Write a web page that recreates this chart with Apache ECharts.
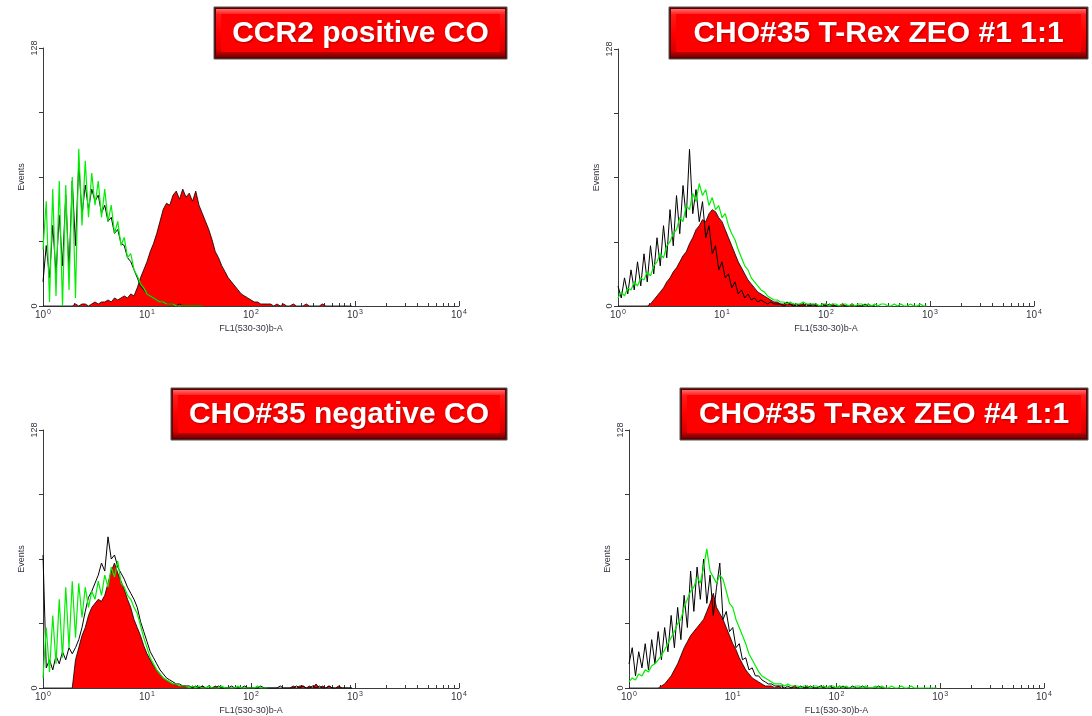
<!DOCTYPE html>
<html>
<head>
<meta charset="utf-8">
<script src="https://cdn.jsdelivr.net/npm/echarts@6/dist/echarts.min.js"></script>
<style>
html,body{margin:0;padding:0;background:#fff;}
#chart{width:1092px;height:716px;}
</style>
</head>
<body>
<div id="chart"></div>
<script>
// ---------- data ----------
const binsPerDecade = 32;            // histogram channels per decade (log10 scale)
const decadeTicks = [0, 1, 2, 3, 4]; // labelled as 10^n
const yMax = 128;
const yLabels = [0, 128];
const xAxisName = 'FL1(530-30)b-A';
const yAxisName = 'Events';
const panelTitles = ['CCR2 positive CO', 'CHO#35 T-Rex ZEO #1 1:1', 'CHO#35 negative CO', 'CHO#35 T-Rex ZEO #4 1:1'];

// Panel 1: CCR2 positive CO
const p1Red = [0,0,0,0,0,0,0,0,0,0, 1,0,1,1,0,1,2,1,2,2, 3,2,4,3,4,5,4,6,5,9, 14,18,22,27,31,36,42,48,51,50,
  55,57,53,58,54,56,52,57,50,46, 42,38,33,27,24,20,17,14,12,10, 8,6,5,4,3,2,2,1,1,1, 1,0,1,0,1,0,0,1,0,0,
  0,1,0,0,0,0,1,0,0,0,0,0,0,0,0,0];
const p1Black = [12,30,14,40,16,45,20,55,18,62, 30,71,45,60,48,58,52,55,46,50, 42,44,36,38,31,30,24,22,18,14,
  10,8,6,5,4,3,2,2,1,1, 1,0,1,0,0,0,0,0,0,0];
const p1Green = [28,52,2,58,5,62,0,60,8,64, 4,78,40,72,44,66,50,62,44,58, 42,50,36,42,30,34,24,26,18,15,
  11,9,6,5,4,3,2,2,1,1, 1,0,0,0,0,0,0,0,0,0];

// Panel 2: CHO#35 T-Rex ZEO #1 1:1
const p2Red = [0,0,0,0,0,0,0,0,0,0, 1,3,5,7,9,12,14,17,19,22, 25,27,31,34,38,40,43,42,46,48, 47,44,42,38,34,30,26,22,19,16,
  13,11,9,7,6,5,4,3,2,2, 1,1,2,1,1,0,1,1,0,1, 0,1,0,0,1,0,1,0,0,1, 0,0,1,0,0,0,1,0,0,0];
const p2Black = [10,4,14,6,18,8,22,10,26,12, 30,16,34,20,40,24,48,30,55,36, 60,44,78,46,58,42,52,34,40,26,
  30,18,22,14,16,9,12,6,8,4, 6,3,4,2,3,2,1,2,1,1, 1,0,1,1,0,1,0,0,1,0, 1,0,0,1,0,1,0,0,0,1, 0,0,1,0,0,0,0,1,0,0];
const p2Green = [4,7,5,9,8,12,10,14,13,17, 15,20,22,26,24,30,32,36,38,44, 42,50,48,56,52,61,55,58,50,54,
  48,50,44,46,40,36,33,28,24,20, 18,14,12,10,8,7,5,4,3,3, 2,2,1,2,1,1,1,2,1,1, 1,1,0,1,1,0,1,1,0,1,
  1,0,1,0,1,1,0,1,0,1, 0,1,1,0,0,1,0,1,0,0,1,0,0,1,0,0];

// Panel 3: CHO#35 negative CO
const p3Red = [0,0,0,0,0,0,0,0,0,0, 14,20,26,30,36,40,42,44,43,46, 52,58,62,57,53,49,44,40,34,30, 26,21,17,14,11,9,7,5,4,3,
  2,2,1,1,1,0,1,0,0,1, 0,0,0,1,0,0,0,0,0,0, 0,0,0,0,0,0,0,0,0,0, 0,0,0,0,0,0,0,1,0,1,
  1,0,1,0,2,0,1,0,1,0,0,1,0,0,0,0];
const p3Black = [66,10,14,9,16,12,18,14,20,17, 20,24,30,38,45,48,52,56,62,58, 75,64,66,60,57,54,50,47,44,40,
  33,28,23,18,15,12,9,7,5,4, 3,2,2,1,1,1,0,1,0,1, 0,1,0,0,1,0,0,0,1,0, 0,0,1,0,0,0,0,1,0,0,
  0,0,0,1,0,0,0,0,1,0, 1,0,0,1,0,1,0,0,1,0,0,0,0,0,0,0];
const p3Green = [5,30,8,36,12,44,15,50,20,53, 25,52,35,50,40,48,44,53,46,56, 50,60,55,63,52,50,46,44,40,37,
  31,25,20,15,12,9,7,5,4,3, 2,2,1,1,1,0,1,0,1,0, 0,1,0,0,0,1,0,0,0,0, 1,0,0,0,0,0,1,0,0,0];

// Panel 4: CHO#35 T-Rex ZEO #4 1:1
const p4Red = [0,0,0,0,0,0,0,0,0,0, 1,2,4,6,9,12,16,20,23,26, 28,30,32,34,38,42,47,40,37,34, 30,26,22,19,15,12,9,7,5,4,
  3,2,1,1,1,0,1,0,0,0, 0,1,0,0,0,1,0,0,0,0, 1,0,0,0,0,0,1,0,0,0];
const p4Black = [12,20,6,18,10,22,9,24,12,28, 14,30,18,36,20,40,24,46,30,58, 38,60,44,64,42,56,36,50,62,34,
  38,28,30,20,22,14,15,9,10,6, 6,4,3,2,2,1,1,1,0,1, 0,1,0,1,0,0,1,0,0,1, 0,0,1,0,0,1,0,0,0,1, 0,0,1,0,0,0,0,1,0,0];
const p4Green = [3,5,4,7,6,9,8,11,12,14, 16,19,22,25,28,32,34,40,44,48, 50,55,52,60,69,58,55,52,56,54,
  48,42,40,34,30,26,22,17,14,11, 8,6,5,4,3,2,2,2,1,2, 1,1,1,0,1,1,0,1,1,0, 1,0,1,1,0,1,0,1,0,0,
  1,1,0,1,0,0,1,0,1,0, 0,1,0,0,1,0,0,1,0,0,0,0,0,0,0,0];

const panelRed = [p1Red, p2Red, p3Red, p4Red];
const panelBlack = [p1Black, p2Black, p3Black, p4Black];
const panelGreen = [p1Green, p2Green, p3Green, p4Green];

// ---------- layout ----------
const grids = [
  {left: 43, top: 48, width: 416, height: 258},
  {left: 618, top: 49, width: 416, height: 257},
  {left: 43, top: 430, width: 416, height: 258},
  {left: 629, top: 430, width: 415, height: 258}
];
const titleBoxes = [
  {x: 214, y: 7, w: 293, h: 52},
  {x: 669, y: 7, w: 419, h: 52},
  {x: 171, y: 388, w: 336, h: 52},
  {x: 680, y: 388, w: 408, h: 52}
];

const FONT = '"Liberation Sans", Arial, sans-serif';
const AXIS_COLOR = '#3a3a3a';
const LABEL_COLOR = '#33333f';

// minor log tick positions on a 0.01-decade category scale
const minorCats = [];
for (let i = 0; i <= 400; i++) minorCats.push(String(i));
const minorSet = new Set();
for (let k = 0; k < 4; k++) for (let m = 2; m <= 9; m++) minorSet.add(Math.round(100 * (k + Math.log10(m))));

function toPairs(arr) { return arr.map((v, i) => [i / binsPerDecade, v]); }

const xAxes = [], yAxes = [], series = [];
grids.forEach((g, p) => {
  xAxes.push({
    type: 'value', gridIndex: p, min: 0, max: decadeTicks[decadeTicks.length - 1], interval: 1,
    position: 'bottom',
    axisLine: {show: true, lineStyle: {color: AXIS_COLOR, width: 1}},
    axisTick: {show: true, inside: true, length: 5, lineStyle: {color: AXIS_COLOR}},
    splitLine: {show: false},
    axisLabel: {
      margin: 3,
      formatter: v => '{b|10}{s|' + v + '}',
      rich: {
        b: {fontSize: 10, fontFamily: FONT, color: LABEL_COLOR, lineHeight: 12},
        s: {fontSize: 7, fontFamily: FONT, color: LABEL_COLOR, lineHeight: 7, verticalAlign: 'top', padding: [0, 0, 0, 1]}
      }
    },
    name: xAxisName, nameLocation: 'middle', nameGap: 18,
    nameTextStyle: {fontSize: 9, fontFamily: FONT, color: LABEL_COLOR}
  });
  xAxes.push({
    type: 'category', gridIndex: p, data: minorCats, boundaryGap: false, position: 'bottom', offset: 0,
    axisLine: {show: false},
    axisLabel: {show: false},
    splitLine: {show: false},
    axisTick: {show: true, inside: true, length: 3, lineStyle: {color: AXIS_COLOR},
      interval: (idx) => minorSet.has(idx)}
  });
  yAxes.push({
    type: 'value', gridIndex: p, min: 0, max: yMax, interval: 32,
    axisLine: {show: true, lineStyle: {color: AXIS_COLOR, width: 1}},
    axisTick: {show: true, inside: false, length: 4, lineStyle: {color: AXIS_COLOR}},
    splitLine: {show: false},
    axisLabel: {
      rotate: 90, fontSize: 9, fontFamily: FONT, color: LABEL_COLOR, margin: 4,
      formatter: v => (yLabels.indexOf(v) >= 0 ? String(v) : '')
    },
    name: yAxisName, nameLocation: 'middle', nameRotate: 90, nameGap: 17,
    nameTextStyle: {fontSize: 9, fontFamily: FONT, color: LABEL_COLOR}
  });
  const common = {type: 'line', symbol: 'none', showSymbol: false, silent: true,
    xAxisIndex: 2 * p, yAxisIndex: p, animation: false};
  series.push(Object.assign({}, common, {
    name: 'red', data: toPairs(panelRed[p]), z: 2,
    lineStyle: {color: '#000', width: 0.8},
    areaStyle: {color: '#ff0000', opacity: 1}
  }));
  series.push(Object.assign({}, common, {
    name: 'black', data: toPairs(panelBlack[p]), z: 3,
    lineStyle: {color: '#000', width: 1}
  }));
  series.push(Object.assign({}, common, {
    name: 'green', data: toPairs(panelGreen[p]), z: 4,
    lineStyle: {color: '#00ee00', width: 1.2}
  }));
});

// title boxes (bevelled red buttons)
const graphics = [];
titleBoxes.forEach((b, p) => {
  graphics.push({
    type: 'group', z: 100, children: [
      {type: 'rect', shape: {x: b.x, y: b.y, width: b.w, height: b.h},
        style: {fill: '#5a0000', stroke: '#555', lineWidth: 1}},
      {type: 'rect', shape: {x: b.x + 2, y: b.y + 2, width: b.w - 4, height: b.h - 4},
        style: {fill: new echarts.graphic.LinearGradient(0, 0, 0, 1, [
          {offset: 0, color: '#ff6a6a'}, {offset: 0.12, color: '#ff1a1a'},
          {offset: 0.5, color: '#ff0000'}, {offset: 0.86, color: '#d80000'}, {offset: 1, color: '#7a0000'}])}},
      {type: 'rect', shape: {x: b.x + 7, y: b.y + 7, width: b.w - 14, height: b.h - 14},
        style: {fill: '#ff0000'}},
      {type: 'text', x: b.x + b.w / 2, y: b.y + b.h / 2 + 1,
        style: {text: panelTitles[p], fill: '#ffffff', font: 'bold 30px "Liberation Sans", Arial, sans-serif',
          align: 'center', verticalAlign: 'middle',
          textShadowColor: 'rgba(80,0,0,0.5)', textShadowBlur: 2, textShadowOffsetX: 1, textShadowOffsetY: 1}}
    ]
  });
});

const chart = echarts.init(document.getElementById('chart'), null, {renderer: 'canvas'});
chart.setOption({
  backgroundColor: '#ffffff',
  animation: false,
  grid: grids.map(g => Object.assign({containLabel: false}, g)),
  xAxis: xAxes,
  yAxis: yAxes,
  series: series,
  graphic: graphics
});
</script>
</body>
</html>
